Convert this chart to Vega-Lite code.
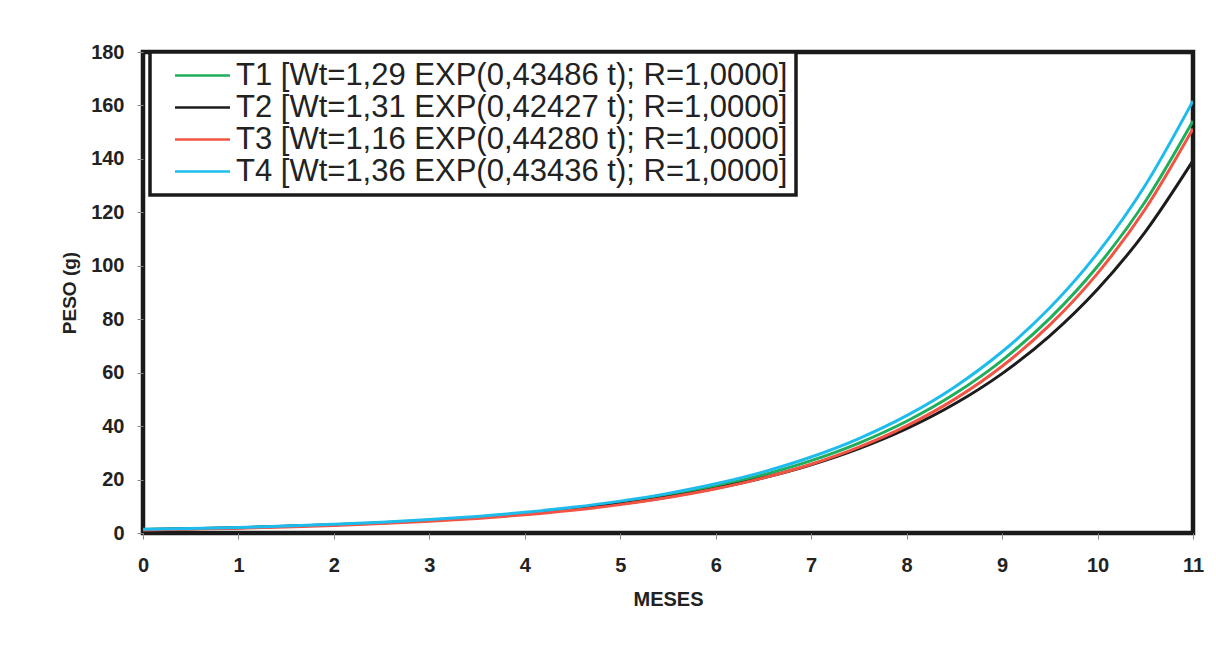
{
  "$schema": "https://vega.github.io/schema/vega-lite/v6.json",
  "autosize": {"type": "none"},
  "padding": {"left": 143, "top": 52, "right": 23, "bottom": 121},
  "width": 1050,
  "height": 481,
  "background": "white",
  "config": {
    "font": "Liberation Sans",
    "view": {"stroke": "#1a1a1a", "strokeWidth": 4.5}
  },
  "data": {
    "values": [
      {"t": 0, "s": "T1", "w": 1.29}, {"t": 0.5, "s": "T1", "w": 1.60}, {"t": 1, "s": "T1", "w": 1.99}, {"t": 1.5, "s": "T1", "w": 2.48},
      {"t": 2, "s": "T1", "w": 3.08}, {"t": 2.5, "s": "T1", "w": 3.83}, {"t": 3, "s": "T1", "w": 4.76}, {"t": 3.5, "s": "T1", "w": 5.91},
      {"t": 4, "s": "T1", "w": 7.35}, {"t": 4.5, "s": "T1", "w": 9.13}, {"t": 5, "s": "T1", "w": 11.35}, {"t": 5.5, "s": "T1", "w": 14.10},
      {"t": 6, "s": "T1", "w": 17.53}, {"t": 6.5, "s": "T1", "w": 21.79}, {"t": 7, "s": "T1", "w": 27.08}, {"t": 7.5, "s": "T1", "w": 33.66},
      {"t": 8, "s": "T1", "w": 41.83}, {"t": 8.5, "s": "T1", "w": 51.99}, {"t": 9, "s": "T1", "w": 64.62}, {"t": 9.5, "s": "T1", "w": 80.31},
      {"t": 10, "s": "T1", "w": 99.81}, {"t": 10.5, "s": "T1", "w": 124.06}, {"t": 11, "s": "T1", "w": 154.19},

      {"t": 0, "s": "T2", "w": 1.31}, {"t": 0.5, "s": "T2", "w": 1.62}, {"t": 1, "s": "T2", "w": 2.00}, {"t": 1.5, "s": "T2", "w": 2.48},
      {"t": 2, "s": "T2", "w": 3.06}, {"t": 2.5, "s": "T2", "w": 3.78}, {"t": 3, "s": "T2", "w": 4.68}, {"t": 3.5, "s": "T2", "w": 5.78},
      {"t": 4, "s": "T2", "w": 7.15}, {"t": 4.5, "s": "T2", "w": 8.84}, {"t": 5, "s": "T2", "w": 10.93}, {"t": 5.5, "s": "T2", "w": 13.51},
      {"t": 6, "s": "T2", "w": 16.71}, {"t": 6.5, "s": "T2", "w": 20.65}, {"t": 7, "s": "T2", "w": 25.53}, {"t": 7.5, "s": "T2", "w": 31.57},
      {"t": 8, "s": "T2", "w": 39.03}, {"t": 8.5, "s": "T2", "w": 48.25}, {"t": 9, "s": "T2", "w": 59.65}, {"t": 9.5, "s": "T2", "w": 73.75},
      {"t": 10, "s": "T2", "w": 91.18}, {"t": 10.5, "s": "T2", "w": 112.72}, {"t": 11, "s": "T2", "w": 139.36},

      {"t": 0, "s": "T3", "w": 1.16}, {"t": 0.5, "s": "T3", "w": 1.45}, {"t": 1, "s": "T3", "w": 1.81}, {"t": 1.5, "s": "T3", "w": 2.25},
      {"t": 2, "s": "T3", "w": 2.81}, {"t": 2.5, "s": "T3", "w": 3.51}, {"t": 3, "s": "T3", "w": 4.38}, {"t": 3.5, "s": "T3", "w": 5.46},
      {"t": 4, "s": "T3", "w": 6.82}, {"t": 4.5, "s": "T3", "w": 8.51}, {"t": 5, "s": "T3", "w": 10.62}, {"t": 5.5, "s": "T3", "w": 13.25},
      {"t": 6, "s": "T3", "w": 16.53}, {"t": 6.5, "s": "T3", "w": 20.63}, {"t": 7, "s": "T3", "w": 25.74}, {"t": 7.5, "s": "T3", "w": 32.12},
      {"t": 8, "s": "T3", "w": 40.08}, {"t": 8.5, "s": "T3", "w": 50.01}, {"t": 9, "s": "T3", "w": 62.41}, {"t": 9.5, "s": "T3", "w": 77.87},
      {"t": 10, "s": "T3", "w": 97.17}, {"t": 10.5, "s": "T3", "w": 121.25}, {"t": 11, "s": "T3", "w": 151.29},

      {"t": 0, "s": "T4", "w": 1.36}, {"t": 0.5, "s": "T4", "w": 1.69}, {"t": 1, "s": "T4", "w": 2.10}, {"t": 1.5, "s": "T4", "w": 2.61},
      {"t": 2, "s": "T4", "w": 3.24}, {"t": 2.5, "s": "T4", "w": 4.03}, {"t": 3, "s": "T4", "w": 5.01}, {"t": 3.5, "s": "T4", "w": 6.22},
      {"t": 4, "s": "T4", "w": 7.73}, {"t": 4.5, "s": "T4", "w": 9.60}, {"t": 5, "s": "T4", "w": 11.93}, {"t": 5.5, "s": "T4", "w": 14.83},
      {"t": 6, "s": "T4", "w": 18.43}, {"t": 6.5, "s": "T4", "w": 22.89}, {"t": 7, "s": "T4", "w": 28.45}, {"t": 7.5, "s": "T4", "w": 35.35},
      {"t": 8, "s": "T4", "w": 43.92}, {"t": 8.5, "s": "T4", "w": 54.58}, {"t": 9, "s": "T4", "w": 67.82}, {"t": 9.5, "s": "T4", "w": 84.27},
      {"t": 10, "s": "T4", "w": 104.72}, {"t": 10.5, "s": "T4", "w": 130.12}, {"t": 11, "s": "T4", "w": 161.68}
    ]
  },
  "mark": {"type": "line", "strokeWidth": 3, "interpolate": "monotone", "clip": true},
  "encoding": {
    "x": {
      "field": "t", "type": "quantitative",
      "scale": {"domain": [0, 11], "nice": false, "zero": false},
      "axis": {
        "title": "MESES", "values": [0,1,2,3,4,5,6,7,8,9,10,11], "format": "d", "labelFlush": false,
        "domain": false, "grid": false, "tickSize": 6, "tickColor": "#888", "tickWidth": 1,
        "labelFont": "Liberation Sans", "labelFontSize": 20, "labelFontWeight": "bold", "labelColor": "#222", "labelPadding": 16,
        "titleFont": "Liberation Sans", "titleFontSize": 20, "titleFontWeight": "bold", "titleColor": "#222", "titlePadding": 14
      }
    },
    "y": {
      "field": "w", "type": "quantitative",
      "scale": {"domain": [0, 180], "nice": false},
      "axis": {
        "title": "PESO (g)", "values": [0,20,40,60,80,100,120,140,160,180], "labelFlush": false,
        "domain": false, "grid": false, "tickSize": 6, "tickColor": "#888", "tickWidth": 1,
        "labelFont": "Liberation Sans", "labelFontSize": 20, "labelFontWeight": "bold", "labelColor": "#222", "labelPadding": 13,
        "titleFont": "Liberation Sans", "titleFontSize": 19, "titleFontWeight": "bold", "titleColor": "#222", "titlePadding": 11
      }
    },
    "color": {
      "field": "s", "type": "nominal",
      "scale": {"domain": ["T1", "T2", "T3", "T4"], "range": ["#1fae5c", "#1c1c1c", "#f25444", "#1ebcec"]},
      "legend": {
        "title": null, "orient": "none", "legendX": 7, "legendY": 0,
        "fillColor": "white", "strokeColor": "#1a1a1a",
        "padding": 8, "symbolOffset": 7,
        "symbolType": "M-1,0H9", "symbolSize": 121, "symbolStrokeWidth": 2.5,
        "labelFont": "Liberation Sans", "labelFontSize": 31, "labelColor": "#222", "labelLimit": 800, "labelOffset": 40,
        "rowPadding": 0,
        "encode": {"legend": {"update": {"strokeWidth": {"value": 3.5}}}},
        "labelExpr": "datum.label == 'T1' ? 'T1 [Wt=1,29 EXP(0,43486 t); R=1,0000]' : datum.label == 'T2' ? 'T2 [Wt=1,31 EXP(0,42427 t); R=1,0000]' : datum.label == 'T3' ? 'T3 [Wt=1,16 EXP(0,44280 t); R=1,0000]' : 'T4 [Wt=1,36 EXP(0,43436 t); R=1,0000]'"
      }
    },
    "order": {"field": "t", "type": "quantitative"}
  }
}
